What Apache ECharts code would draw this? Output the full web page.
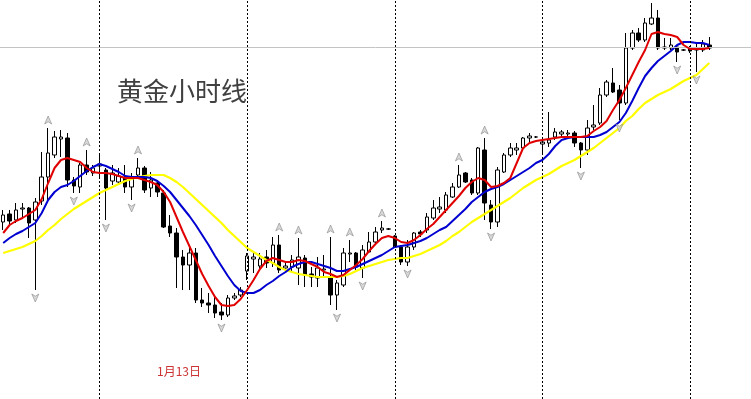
<!DOCTYPE html>
<html>
<head>
<meta charset="utf-8">
<script src="https://cdn.jsdelivr.net/npm/echarts@6/dist/echarts.min.js"></script>
<style>
  html, body { margin: 0; padding: 0; background: #ffffff; }
  #chart { width: 751px; height: 399px; }
</style>
</head>
<body>
<div id="chart"></div>
<script>
// Gold (XAUUSD) hourly bars, Jan 12 - Jan 19
const days = ['1月12日', '1月13日', '1月14日', '1月15日', '1月18日', '1月19日'];
const firstHour = 9;       // first bar on the chart opens at 09:00
const barsPerDay = 23;     // gold trades 01:00 - 23:00 broker time
const emptyBars = 6;       // chart shift on the right

// [open, close, low, high]
const ohlc = [
  [1077.8,1078.5,1077.0,1079.0],[1078.6,1077.9,1077.5,1079.0],[1078.0,1079.0,1077.7,1079.7],[1079.1,1079.2,1078.3,1079.7],
  [1079.2,1077.7,1076.2,1079.3],[1078.0,1079.8,1071.0,1080.2],[1079.9,1082.3,1079.5,1084.8],[1082.3,1084.7,1079.8,1087.2],
  [1084.5,1086.3,1084.2,1086.9],[1086.1,1086.3,1084.3,1087.0],[1086.2,1082.0,1081.3,1086.7],[1082.0,1081.4,1080.7,1082.3],
  [1081.3,1083.5,1080.7,1083.7],[1083.5,1082.8,1082.5,1085.0],[1082.7,1083.2,1082.4,1083.5],[1083.4,1083.6,1082.3,1084.7],
  [1083.0,1081.2,1078.0,1083.2],[1081.9,1082.7,1081.5,1083.5],[1081.8,1082.4,1081.5,1083.2],[1082.3,1081.3,1080.7,1083.5],
  [1081.3,1082.2,1080.0,1082.7],[1082.5,1083.2,1082.3,1084.2],[1083.2,1081.0,1080.7,1083.4],[1081.2,1082.0,1080.3,1082.8],
  [1081.7,1080.8,1080.3,1082.0],[1080.7,1077.3,1077.2,1081.0],[1077.4,1076.7,1076.3,1078.5],[1076.7,1074.3,1071.2,1077.2],
  [1074.3,1073.5,1071.0,1075.0],[1073.5,1074.7,1071.0,1075.2],[1074.7,1070.0,1069.7,1075.2],[1070.0,1069.7,1069.3,1071.2],
  [1069.7,1069.5,1068.7,1070.7],[1069.5,1068.7,1068.2,1070.5],[1068.8,1068.5,1068.0,1069.7],[1068.5,1070.2,1068.3,1070.5],
  [1070.2,1070.4,1070.0,1070.7],[1070.5,1071.0,1070.3,1071.3],[1072.9,1074.4,1072.0,1074.7],[1074.1,1074.3,1072.7,1074.7],
  [1073.4,1074.1,1073.0,1074.7],[1074.3,1073.7,1073.2,1075.0],[1073.7,1075.5,1073.3,1076.3],[1075.5,1073.0,1072.7,1076.5],
  [1073.2,1073.4,1072.8,1073.8],[1073.3,1074.0,1072.8,1074.5],[1073.2,1074.3,1071.5,1076.2],[1074.2,1072.5,1071.3,1074.5],
  [1072.6,1072.3,1071.3,1073.3],[1072.2,1073.2,1071.3,1074.3],[1073.0,1073.1,1072.3,1074.5],[1072.2,1070.5,1069.5,1076.3],
  [1070.5,1071.7,1069.0,1072.0],[1071.5,1074.7,1071.3,1075.2],[1074.6,1074.7,1073.8,1076.0],[1074.7,1073.3,1073.0,1074.8],
  [1073.2,1075.0,1072.2,1075.5],[1074.8,1075.8,1074.7,1076.8],[1075.8,1076.8,1075.5,1077.3],[1077.0,1077.2,1076.7,1077.9],
  [1077.1,1077.1,1077.0,1077.2],[1076.4,1075.3,1075.2,1076.5],[1075.3,1073.8,1073.5,1075.5],[1073.8,1075.3,1073.4,1076.0],
  [1075.3,1076.7,1075.0,1076.8],[1076.8,1076.6,1076.3,1077.0],[1077.0,1078.3,1076.7,1078.7],[1078.2,1079.2,1078.0,1080.0],
  [1079.1,1079.3,1078.7,1080.3],[1079.0,1080.5,1078.7,1080.8],[1080.3,1081.3,1080.2,1081.7],[1081.3,1082.5,1081.2,1083.5],
  [1082.7,1081.8,1081.7,1082.8],[1082.0,1080.7,1080.5,1082.2],[1080.7,1085.2,1080.5,1085.3],[1085.0,1079.7,1078.0,1086.2],
  [1079.5,1077.8,1077.1,1080.0],[1077.8,1083.0,1077.3,1083.3],[1082.8,1084.5,1082.7,1084.7],[1084.5,1085.2,1084.3,1085.7],
  [1085.0,1085.2,1084.5,1085.7],[1085.2,1086.2,1085.0,1086.3],[1086.2,1086.4,1085.8,1086.7],[1086.3,1086.3,1086.2,1086.4],
  [1085.6,1085.8,1084.7,1086.3],[1085.7,1086.0,1085.3,1088.8],[1086.3,1086.8,1086.0,1087.2],[1086.6,1086.8,1086.3,1087.0],
  [1086.6,1086.7,1086.3,1087.0],[1086.7,1085.7,1085.3,1086.9],[1085.7,1085.0,1083.2,1085.8],[1085.0,1087.2,1084.5,1088.0],
  [1087.3,1087.5,1087.0,1089.5],[1087.7,1090.5,1087.5,1091.2],[1090.5,1091.8,1090.3,1092.0],[1091.7,1090.8,1090.7,1093.2],
  [1091.0,1089.7,1088.0,1091.5],[1089.7,1095.2,1089.5,1096.7],[1095.2,1096.7,1095.0,1097.0],[1096.7,1096.0,1095.8,1097.2],
  [1096.0,1097.7,1095.8,1098.2],[1097.6,1098.2,1097.5,1099.7],[1098.2,1095.2,1095.0,1099.0],[1095.2,1095.3,1095.0,1096.2],
  [1095.2,1095.5,1095.0,1096.2],[1095.3,1094.8,1093.8,1095.5],[1095.0,1095.0,1094.9,1095.1],[1095.2,1094.9,1094.7,1095.4],
  [1095.2,1095.0,1092.8,1095.6],[1095.0,1095.6,1094.8,1096.0],[1095.5,1095.2,1095.0,1096.3]
];

// moving averages: fast (red), medium (blue), slow (yellow)
const maFast = [
  1076.7,1077.5,1077.9,1078.2,1078.6,1079.0,1080.1,1081.7,1083.2,1084.0,1084.2,1084.0,1083.8,1083.2,1082.8,1082.7,
  1082.7,1082.6,1082.4,1082.2,1082.2,1082.2,1082.0,1081.8,1081.5,1080.8,1079.8,1078.3,1076.8,1075.4,1074.0,1072.6,
  1071.4,1070.3,1069.5,1069.4,1069.5,1070.1,1071.0,1072.0,1073.1,1073.9,1074.2,1074.0,1073.8,1073.8,1074.0,1073.9,
  1073.6,1073.3,1072.8,1072.6,1072.3,1072.5,1073.0,1073.5,1074.1,1074.9,1075.6,1076.2,1076.4,1076.2,1075.8,1075.7,
  1076.0,1076.5,1077.1,1077.6,1078.3,1079.0,1079.7,1080.4,1081.2,1081.8,1082.2,1082.0,1081.3,1081.4,1081.7,1082.2,
  1083.7,1085.2,1085.7,1085.9,1086.0,1086.1,1086.2,1086.3,1086.3,1086.3,1086.3,1086.4,1086.9,1087.3,1087.9,1089.0,
  1090.0,1091.2,1092.5,1093.8,1095.0,1096.6,1096.8,1096.6,1096.5,1096.3,1095.5,1095.1,1095.1,1095.1,1095.2
];
const maMid = [
  1075.7,1076.2,1076.6,1076.9,1077.3,1077.7,1078.7,1080.0,1080.8,1081.3,1081.5,1081.9,1082.4,1082.9,1083.3,1083.6,
  1083.4,1083.1,1082.8,1082.4,1082.3,1082.3,1082.3,1082.2,1081.9,1081.4,1080.8,1080.0,1079.2,1078.4,1077.5,1076.5,
  1075.5,1074.4,1073.4,1072.4,1071.5,1070.9,1070.7,1070.7,1071.0,1071.5,1071.9,1072.4,1072.8,1073.3,1073.6,1073.8,
  1073.8,1073.6,1073.4,1073.2,1072.9,1072.9,1073.1,1073.3,1073.6,1073.9,1074.2,1074.5,1074.9,1075.3,1075.4,1075.5,
  1075.7,1075.9,1076.2,1076.6,1077.0,1077.3,1077.9,1078.5,1079.1,1079.8,1080.3,1080.8,1081.1,1081.3,1081.6,1082.0,
  1082.4,1082.8,1083.2,1083.7,1084.0,1084.6,1085.4,1086.0,1086.2,1086.3,1086.3,1086.3,1086.3,1086.5,1086.8,1087.3,
  1087.8,1088.7,1089.9,1091.2,1092.4,1093.2,1093.9,1094.4,1094.9,1095.5,1095.8,1095.8,1095.7,1095.7,1095.5
];
const maSlow = [
  1074.7,1074.9,1075.1,1075.3,1075.6,1075.9,1076.4,1077.0,1077.5,1078.1,1078.6,1079.1,1079.5,1079.9,1080.3,1080.7,
  1081.0,1081.3,1081.6,1081.9,1082.1,1082.3,1082.4,1082.5,1082.5,1082.5,1082.2,1081.8,1081.3,1080.7,1080.1,1079.5,
  1078.9,1078.3,1077.7,1077.0,1076.4,1075.8,1075.2,1074.8,1074.4,1074.0,1073.7,1073.3,1073.0,1072.8,1072.6,1072.5,
  1072.4,1072.3,1072.3,1072.3,1072.3,1072.4,1072.6,1072.9,1073.2,1073.4,1073.6,1073.8,1074.0,1074.1,1074.2,1074.2,
  1074.4,1074.6,1074.9,1075.2,1075.5,1075.9,1076.4,1076.8,1077.3,1077.8,1078.2,1078.6,1079.0,1079.4,1079.8,1080.2,
  1080.7,1081.2,1081.6,1082.0,1082.3,1082.6,1083.0,1083.4,1083.7,1084.0,1084.4,1084.8,1085.2,1085.7,1086.2,1086.7,
  1087.2,1087.9,1088.4,1089.1,1089.7,1090.1,1090.5,1090.8,1091.1,1091.5,1091.9,1092.2,1092.5,1093.1,1093.7
];

// bars marked by the Fractals indicator
const fractalUp = [7, 13, 21, 43, 46, 51, 54, 59, 71, 75];
const fractalDown = [5, 11, 16, 20, 34, 52, 56, 63, 76, 90, 96, 105, 108];

// horizontal reference level
const levelPrice = 1095.3;

const title = '黄金小时线';
const dateNote = '1月13日';

// hourly category labels; day separators fall on the first bar of each day
const categories = [];
const dayStarts = [];
days.forEach(function (d, di) {
  const start = di === 0 ? firstHour : 1;
  for (let h = start; h <= 23; h++) {
    if (di > 0 && h === 1) dayStarts.push(d + ' 01:00');
    categories.push(d + ' ' + (h < 10 ? '0' : '') + h + ':00');
  }
});
const totalBars = ohlc.length + emptyBars;
categories.length = totalBars;

const upPoints = fractalUp.map(function (i) { return [i, ohlc[i][3]]; });
const downPoints = fractalDown.map(function (i) { return [i, ohlc[i][2]]; });

const chart = echarts.init(document.getElementById('chart'), null, { renderer: 'canvas' });

const barStep = 6.435;
chart.setOption({
  animation: false,
  backgroundColor: '#ffffff',
  grid: { left: -0.72, top: 0, width: barStep * totalBars, height: 399 },
  xAxis: {
    type: 'category',
    data: categories,
    boundaryGap: true,
    axisLine: { show: false },
    axisTick: { show: false },
    axisLabel: { show: false },
    splitLine: { show: false }
  },
  yAxis: {
    type: 'value',
    min: 1060.1,
    max: 1100,
    scale: true,
    axisLine: { show: false },
    axisTick: { show: false },
    axisLabel: { show: false },
    splitLine: { show: false }
  },
  series: [
    {
      name: 'XAUUSD H1',
      type: 'candlestick',
      data: ohlc,
      barWidth: 4,
      itemStyle: {
        color: '#ffffff',
        color0: '#000000',
        borderColor: '#000000',
        borderColor0: '#000000',
        borderWidth: 1
      },
      markLine: {
        silent: true,
        symbol: 'none',
        label: { show: false },
        data: dayStarts.map(function (c) {
          return { xAxis: c, lineStyle: { color: '#000000', type: [2, 2], width: 1 } };
        }).concat([
          { yAxis: levelPrice, lineStyle: { color: '#c4c4c4', type: 'solid', width: 1 } }
        ])
      },
      z: 2
    },
    {
      name: 'MA slow',
      type: 'line',
      data: maSlow,
      showSymbol: false,
      lineStyle: { color: '#ffff00', width: 2.2 },
      z: 3
    },
    {
      name: 'MA mid',
      type: 'line',
      data: maMid,
      showSymbol: false,
      lineStyle: { color: '#0000d0', width: 2 },
      z: 4
    },
    {
      name: 'MA fast',
      type: 'line',
      data: maFast,
      showSymbol: false,
      lineStyle: { color: '#e00000', width: 2 },
      z: 5
    },
    {
      name: 'Fractal up',
      type: 'scatter',
      data: upPoints,
      symbol: 'path://M5,0L10,9L5,6.5L0,9Z',
      symbolSize: [7, 8],
      symbolOffset: [0, -8],
      itemStyle: { color: '#d0d0d0', borderColor: '#8c8c8c', borderWidth: 0.8 },
      z: 6
    },
    {
      name: 'Fractal down',
      type: 'scatter',
      data: downPoints,
      symbol: 'path://M0,0L5,2.5L10,0L5,9Z',
      symbolSize: [7, 8],
      symbolOffset: [0, 8],
      itemStyle: { color: '#d0d0d0', borderColor: '#8c8c8c', borderWidth: 0.8 },
      z: 6
    }
  ],
  graphic: [
    {
      type: 'text',
      left: 117,
      top: 78,
      style: {
        text: title,
        fill: '#404040',
        font: '26px "Noto Sans CJK SC", sans-serif',
        verticalAlign: 'top'
      },
      z: 10
    },
    {
      type: 'text',
      left: 157,
      top: 365,
      style: {
        text: dateNote,
        fill: '#cc3333',
        font: '12px "Noto Sans CJK SC", sans-serif',
        verticalAlign: 'top'
      },
      z: 10
    }
  ]
});
</script>
</body>
</html>
